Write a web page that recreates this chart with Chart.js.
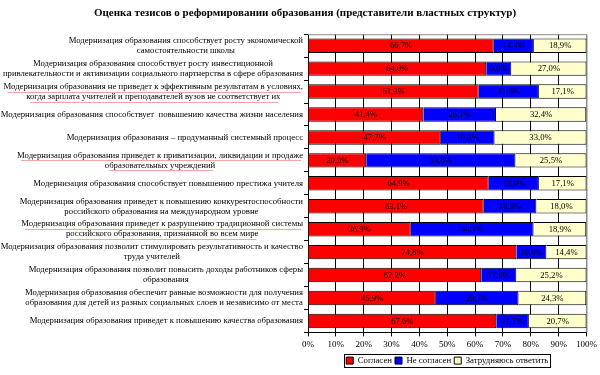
<!DOCTYPE html>
<html lang="ru">
<head>
<meta charset="UTF-8">
<title>Оценка тезисов о реформировании образования</title>
<script src="https://cdn.jsdelivr.net/npm/chart.js"></script>
<style>
    html, body { margin: 0; padding: 0; background: #fff; }
</style>
</head>
<body>
<canvas id="chart" width="600" height="375"></canvas>
<script>
// категории (подписи оси Y), по строкам
const categories = [
    ['Модернизация образования способствует росту экономической', 'самостоятельности школы'],
    ['Модернизация образования способствует росту инвестиционной', 'привлекательности и активизации социального партнерства в сфере образования'],
    ['Модернизация образования не приведет к эффективным результатам в условиях,', 'когда зарплата учителей и преподавателей вузов не соответствует их'],
    ['Модернизация образования способствует  повышению качества жизни населения'],
    ['Модернизация образования – продуманный системный процесс'],
    ['Модернизация образования приведет к приватизации, ликвидации и продаже', 'образовательных учреждений'],
    ['Модернизация образования способствует повышению престижа учителя'],
    ['Модернизация образования приведет к повышению конкурентоспособности', 'российского образования на международном уровне'],
    ['Модернизация образования приведет к разрушению традиционной системы', 'российского образования, признанной во всем мире'],
    ['Модернизация образования позволит стимулировать результативность и качество', 'труда учителей'],
    ['Модернизация образования позволит повысить доходы работников сферы', 'образования'],
    ['Модернизация образования обеспечит равные возможности для получения', 'образования для детей из разных социальных слоев и независимо от места'],
    ['Модернизация образования приведет к повышению качества образования']
];
// подписи, подчеркнутые в исходнике (проверка орфографии)
const underlined = [2, 5, 8];
const seriesNames = ['Согласен', 'Не согласен', 'Затрудняюсь ответить'];
const agree    = [66.7, 64.0, 61.3, 41.4, 47.7, 20.9, 64.9, 63.1, 36.9, 74.8, 62.2, 45.9, 67.6];
const disagree = [14.4,  9.0, 21.6, 26.1, 19.3, 53.6, 18.0, 18.9, 44.1, 10.8, 12.6, 29.7, 11.7];
const unsure   = [18.9, 27.0, 17.1, 32.4, 33.0, 25.5, 17.1, 18.0, 18.9, 14.4, 25.2, 24.3, 20.7];
const xTickLabels = ['0%', '10%', '20%', '30%', '40%', '50%', '60%', '70%', '80%', '90%', '100%'];

const serif = '"Liberation Serif", "Times New Roman", serif';

// подписи категорий: блок выровнен вправо, строки по центру
const sideLabels = {
    id: 'sideLabels',
    afterDraw(chart) {
        const ctx = chart.ctx;
        const ys = chart.scales.y;
        ctx.save();
        ctx.font = '8.7px ' + serif;
        ctx.fillStyle = '#000';
        ctx.textAlign = 'center';
        ctx.textBaseline = 'middle';
        categories.forEach((lines, i) => {
            const w = Math.max(...lines.map(l => ctx.measureText(l).width));
            const cx = ys.right - 5 - w / 2;
            const cy = ys.getPixelForValue(i);
            lines.forEach((l, k) => {
                const ly = cy + (k - (lines.length - 1) / 2) * 10;
                ctx.fillText(l, cx, ly);
                if (underlined.includes(i)) {
                    const lw = ctx.measureText(l).width;
                    ctx.strokeStyle = '#f5a3a3';
                    ctx.lineWidth = 1;
                    ctx.beginPath();
                    ctx.moveTo(cx - lw / 2 + 4, Math.round(ly + 5) + 0.5);
                    ctx.lineTo(cx + lw / 2 - 2, Math.round(ly + 5) + 0.5);
                    ctx.stroke();
                }
            });
        });
        ctx.restore();
    }
};

// значения внутри сегментов
const barValues = {
    id: 'barValues',
    afterDatasetsDraw(chart) {
        const ctx = chart.ctx;
        ctx.save();
        ctx.font = '8.7px ' + serif;
        ctx.fillStyle = '#000';
        ctx.textAlign = 'center';
        ctx.textBaseline = 'middle';
        chart.data.datasets.forEach((ds, di) => {
            chart.getDatasetMeta(di).data.forEach((bar, i) => {
                const txt = ds.data[i].toFixed(1).replace('.', ',') + '%';
                ctx.fillText(txt, (bar.x + bar.base) / 2, bar.y + 0.5);
            });
        });
        ctx.restore();
    }
};

// серая рамка сверху и справа, рамка легенды
const frame = {
    id: 'frame',
    beforeDatasetsDraw(chart) {
        const a = chart.chartArea;
        const ctx = chart.ctx;
        ctx.save();
        ctx.strokeStyle = '#8c8c8c';
        ctx.lineWidth = 1;
        ctx.beginPath();
        ctx.moveTo(a.left, a.top + 0.5);
        ctx.lineTo(a.right + 0.5, a.top + 0.5);
        ctx.lineTo(a.right + 0.5, a.bottom);
        ctx.stroke();
        ctx.restore();
    },
    afterDraw(chart) {
        const boxes = chart.legend.legendHitBoxes;
        if (!boxes || !boxes.length) return;
        const l = Math.min(...boxes.map(b => b.left)) - 2;
        const r = Math.max(...boxes.map(b => b.left + b.width)) + 2;
        const t = Math.min(...boxes.map(b => b.top)) - 2;
        const btm = Math.max(...boxes.map(b => b.top + b.height)) + 2;
        const ctx = chart.ctx;
        ctx.save();
        ctx.strokeStyle = '#000';
        ctx.lineWidth = 1;
        ctx.strokeRect(Math.round(l) + 0.5, Math.round(t) + 0.5, Math.round(r - l), Math.round(btm - t));
        ctx.restore();
    }
};

const colors = ['#ff0000', '#0000ff', '#ffffcc'];

new Chart(document.getElementById('chart').getContext('2d'), {
    type: 'bar',
    data: {
        labels: categories,
        datasets: [agree, disagree, unsure].map((d, i) => ({
            label: seriesNames[i],
            data: d,
            backgroundColor: colors[i],
            borderColor: '#000',
            borderWidth: 1,
            barPercentage: 1,
            categoryPercentage: 0.63
        }))
    },
    options: {
        responsive: false,
        animation: false,
        indexAxis: 'y',
        layout: { padding: { left: 23, right: 13, top: 0, bottom: 0 } },
        plugins: {
            title: {
                display: true,
                text: 'Оценка тезисов о реформировании образования (представители властных структур)',
                color: '#000',
                font: { family: serif, size: 11, weight: 'bold' },
                padding: { top: 7, bottom: 14 }
            },
            legend: {
                position: 'bottom',
                fullSize: false,
                labels: {
                    color: '#000',
                    font: { family: serif, size: 8.8 },
                    boxWidth: 7,
                    boxHeight: 7,
                    padding: 3
                }
            },
            tooltip: { enabled: false }
        },
        scales: {
            x: {
                stacked: true,
                min: 0,
                max: 100,
                ticks: {
                    stepSize: 10,
                    color: '#000',
                    font: { family: serif, size: 9 },
                    padding: 3,
                    callback: (v, i) => xTickLabels[i]
                },
                grid: {
                    color: c => c.index === 10 ? '#8c8c8c' : '#000',
                    tickLength: 4,
                    tickColor: '#000'
                },
                border: { color: '#000' }
            },
            y: {
                stacked: true,
                ticks: { display: false },
                grid: {
                    drawOnChartArea: false,
                    tickLength: 4,
                    color: '#000',
                    offset: true
                },
                border: { color: '#000' },
                afterFit: s => { s.width = 285; }
            }
        }
    },
    plugins: [sideLabels, barValues, frame]
});
</script>
</body>
</html>
